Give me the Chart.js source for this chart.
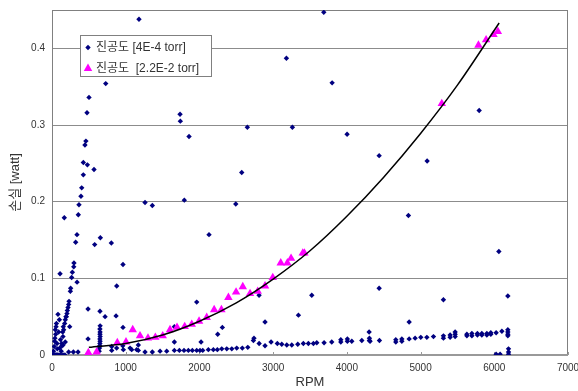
<!DOCTYPE html>
<html>
<head>
<meta charset="utf-8">
<script src="https://cdn.jsdelivr.net/npm/chart.js@4.4.0/dist/chart.umd.min.js"></script>
<style>
  html, body { margin: 0; padding: 0; background: #fff; }
  #wrap { width: 578px; height: 391px; }
</style>
</head>
<body>
<div id="wrap"><canvas id="lossChart" width="578" height="391"></canvas></div>
<script>
// 진공도 4E-4 torr (blue dots)
const lowVacRpm = [
  0, 15, 30, 45, 60, 75, 95, 120, 150, 175,
  20, 30, 36, 40, 45, 50, 55, 60, 68, 72,
  81, 90, 100, 104, 109, 115, 125, 136, 149, 149,
  158, 167, 172, 180, 190, 226, 240, 340, 353, 290,
  131, 145, 153, 180, 194, 203, 208, 217, 226, 231,
  249, 253, 267, 276, 295, 298, 321, 339, 357, 366,
  393, 403, 425, 425, 447, 460, 475, 480, 502, 570,
  729,
  489, 489, 579, 656, 805, 963, 878, 869, 720, 651,
  963, 640, 645, 648, 650, 652, 650, 653, 651, 652,
  650, 653, 810, 810, 877, 968, 960, 1059, 1081, 1149,
  1171, 1171,
  1262, 1361, 1466, 1556, 1660, 1728, 1791, 1850, 1904, 1963,
  2008, 2045, 2121, 2189, 2243, 2303, 2371, 2439, 2506, 2582,
  2656, 1660, 1660, 2022, 2248, 2311, 1963,
  2732, 2810, 2890, 2972, 3057, 3117, 3185, 3253, 3334, 3410,
  3478, 3546, 3592, 3691, 3795, 3918, 4007, 4067, 4203, 4306,
  2740, 3918, 4007, 4306, 2890, 3343, 3524, 4302, 2809,
  4315, 4442, 4664, 4746, 4845, 4926, 5003, 5085, 5175, 5310,
  5401, 5469, 5628, 5696, 5771, 5831, 5899, 5953, 6025, 6103,
  6184, 6184, 4664, 4746, 5310, 5401, 5469, 5628, 5696, 5771,
  5831, 5899, 5953, 6184, 6184, 5469, 4845, 5310, 6184, 4438,
  6025, 6079, 6193, 6193, 6193,
  1180, 3687, 3180, 3800, 1737, 1741, 1859, 2650, 3261, 4003,
  2574, 4438, 5795, 5089, 1262, 1361, 1795, 2130, 2493, 4835,
  6062
];
const lowVacLoss = [
  0, 0, 0, 0, 0, 0, 0, 0, 0, 0,
  0.005, 0.011, 0.018, 0.022, 0.033, 0.027, 0.037, 0.041, 0.015, 0.008,
  0.053, 0.030, 0.046, 0.009, 0.106, 0.020, 0.005, 0.012, 0.024, 0.013,
  0.033, 0.179, 0.041, 0.017, 0.050, 0.004, 0.037, 0.095, 0.004, 0.004,
  0.015, 0.030, 0.037, 0.046, 0.050, 0.054, 0.058, 0.062, 0.066, 0.070,
  0.083, 0.087, 0.101, 0.108, 0.115, 0.120, 0.147, 0.157, 0.183, 0.196,
  0.207, 0.218, 0.235, 0.251, 0.274, 0.279, 0.316, 0.248, 0.336, 0.242,
  0.354,
  0.060, 0.021, 0.144, 0.153, 0.146, 0.118, 0.090, 0.051, 0.050, 0.057,
  0.036, 0.005, 0.009, 0.012, 0.015, 0.018, 0.021, 0.024, 0.027, 0.030,
  0.034, 0.038, 0.011, 0.006, 0.009, 0.007, 0.012, 0.009, 0.007, 0.007,
  0.013, 0.006,
  0.004, 0.004, 0.005, 0.005, 0.006, 0.006, 0.006, 0.006, 0.006, 0.006,
  0.006, 0.006, 0.007, 0.007, 0.007, 0.008, 0.008, 0.008, 0.009, 0.009,
  0.010, 0.017, 0.037, 0.017, 0.027, 0.036, 0.069,
  0.019, 0.015, 0.012, 0.017, 0.015, 0.014, 0.013, 0.013, 0.014, 0.015,
  0.015, 0.015, 0.016, 0.016, 0.017, 0.017, 0.018, 0.018, 0.019, 0.019,
  0.022, 0.020, 0.021, 0.022, 0.043, 0.052, 0.078, 0.030, 0.078,
  0.018, 0.019, 0.020, 0.021, 0.021, 0.022, 0.023, 0.023, 0.024, 0.025,
  0.026, 0.027, 0.027, 0.028, 0.028, 0.028, 0.028, 0.029, 0.029, 0.031,
  0.030, 0.027, 0.017, 0.018, 0.022, 0.023, 0.024, 0.025, 0.025, 0.026,
  0.026, 0.026, 0.027, 0.025, 0.033, 0.030, 0.043, 0.072, 0.077, 0.087,
  0.001, 0.001, 0.001, 0.004, 0.008,
  0.438, 0.447, 0.387, 0.355, 0.314, 0.305, 0.285, 0.297, 0.297, 0.288,
  0.238, 0.260, 0.319, 0.253, 0.199, 0.195, 0.202, 0.157, 0.197, 0.182,
  0.135
];

// 진공도 2.2E-2 torr (magenta triangles)
const highVacRpm = [
  493, 606, 886, 1004, 1095, 1194, 1302, 1402, 1502, 1601,
  1696, 1800, 1896, 1995, 2099, 2200, 2298, 2393, 2497, 2588,
  2687, 2791, 2890, 2995, 3103, 3193, 3243, 3402, 3424, 5288,
  5785, 5889, 5989, 6048
];
const highVacLoss = [
  0.003, 0.004, 0.016, 0.017, 0.033, 0.025, 0.022, 0.023, 0.025, 0.033,
  0.036, 0.037, 0.040, 0.044, 0.049, 0.059, 0.059, 0.075, 0.082, 0.089,
  0.080, 0.083, 0.090, 0.101, 0.120, 0.120, 0.126, 0.133, 0.133, 0.328,
  0.404, 0.411, 0.418, 0.422
];

// trend curve
const trendRpm = [500, 1000, 1500, 2000, 2500, 3000, 3500, 4000, 4500, 5000, 5500, 6066];
const trendLoss = [0.010, 0.015, 0.026, 0.044, 0.068, 0.099, 0.136, 0.181, 0.232, 0.289, 0.352, 0.433];

const FONT = '"Liberation Sans", "Noto Sans CJK KR", sans-serif';
const TEXT_COLOR = "#333";

function toPoints(xs, ys) {
  return xs.map((x, i) => ({ x: x, y: ys[i] }));
}

// plot area border + inward tick marks
const frameBox = {
  id: "frameBox",
  beforeDatasetsDraw(chart) {
    const { ctx, chartArea: a } = chart;
    ctx.save();
    ctx.strokeStyle = "#808080";
    ctx.lineWidth = 1;
    ctx.strokeRect(a.left + 0.5, a.top + 0.5, a.right - a.left - 1, a.bottom - a.top);
    ctx.strokeStyle = "#999";
    ctx.lineWidth = 2;
    ctx.beginPath();
    ctx.moveTo(a.left, a.bottom);
    ctx.lineTo(a.right, a.bottom);
    ctx.stroke();
    const xs = chart.scales.x;
    ctx.lineWidth = 1;
    xs.ticks.forEach((t) => {
      const px = Math.round(xs.getPixelForValue(t.value)) + 0.5;
      ctx.beginPath();
      ctx.moveTo(px, a.bottom);
      ctx.lineTo(px, a.bottom - 3);
      ctx.stroke();
    });
    ctx.restore();
  },
};

// legend box sitting inside the plot
const boxLegend = {
  id: "boxLegend",
  afterDraw(chart) {
    const ctx = chart.ctx;
    const bx = 80, by = 35, bw = 131, bh = 41;
    ctx.save();
    ctx.fillStyle = "#fff";
    ctx.fillRect(bx, by, bw, bh);
    ctx.strokeStyle = "#808080";
    ctx.lineWidth = 1;
    ctx.strokeRect(bx + 0.5, by + 0.5, bw, bh);
    ctx.font = "12px " + FONT;
    ctx.textBaseline = "middle";
    [0, 1].forEach((i) => {
      const ds = chart.data.datasets[i];
      const cy = by + 12.5 + i * 21;
      ctx.fillStyle = ds.backgroundColor;
      Chart.helpers.drawPoint(ctx, {
        pointStyle: ds.pointStyle,
        radius: ds.pointRadius,
        rotation: 0,
        borderWidth: 0,
      }, 88, cy);
      ctx.fillStyle = TEXT_COLOR;
      ctx.fillText(ds.label, 96, cy);
    });
    ctx.restore();
  },
};

new Chart(document.getElementById("lossChart"), {
  type: "scatter",
  data: {
    datasets: [
      {
        label: "진공도 [4E-4 torr]",
        data: toPoints(lowVacRpm, lowVacLoss),
        pointStyle: "rectRot",
        pointRadius: 2.7,
        backgroundColor: "#000080",
        borderWidth: 0,
        order: 2,
      },
      {
        label: "진공도  [2.2E-2 torr]",
        data: toPoints(highVacRpm, highVacLoss),
        pointStyle: "triangle",
        pointRadius: 4.9,
        backgroundColor: "#ff00ff",
        borderWidth: 0,
        order: 1,
      },
      {
        label: "trend",
        data: toPoints(trendRpm, trendLoss),
        showLine: true,
        pointRadius: 0,
        borderColor: "#000",
        borderWidth: 1.5,
        cubicInterpolationMode: "monotone",
        order: 0,
      },
    ],
  },
  options: {
    responsive: false,
    animation: false,
    devicePixelRatio: 1,
    layout: { padding: { top: 10, right: 10, left: 0, bottom: 0 } },
    plugins: {
      legend: { display: false },
      tooltip: { enabled: false },
    },
    scales: {
      x: {
        type: "linear",
        min: 0,
        max: 7000,
        ticks: {
          stepSize: 1000,
          color: TEXT_COLOR,
          font: { family: FONT, size: 10 },
          padding: 7,
          maxRotation: 0,
          callback: (v) => String(v),
        },
        grid: { display: false, drawTicks: false },
        border: { display: false },
        title: {
          display: true,
          text: "RPM",
          color: TEXT_COLOR,
          font: { family: FONT, size: 13 },
          padding: { top: 0, bottom: 1 },
        },
        afterFit(s) {
          s.height = 36;
          s.paddingLeft = 0;
          s.paddingRight = 0;
        },
      },
      y: {
        min: 0,
        max: 0.45,
        ticks: {
          stepSize: 0.1,
          color: TEXT_COLOR,
          font: { family: FONT, size: 10 },
          padding: 7,
          callback: (v) => String(Math.round(v * 10) / 10),
        },
        afterBuildTicks(s) {
          s.ticks = s.ticks.filter((t) => t.value < 0.41);
        },
        grid: { color: "#8c8c8c", drawTicks: false, lineWidth: 1 },
        border: { display: false },
        title: {
          display: true,
          text: "손실 [watt]",
          color: TEXT_COLOR,
          font: { family: FONT, size: 13 },
          padding: { top: 8, bottom: 0 },
        },
        afterFit(s) {
          s.width = 52;
          s.paddingTop = 0;
          s.paddingBottom = 0;
        },
      },
    },
  },
  plugins: [frameBox, boxLegend],
});
</script>
</body>
</html>
